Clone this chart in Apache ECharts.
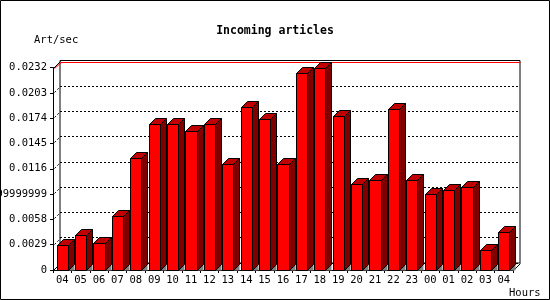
<!DOCTYPE html>
<html><head><meta charset="utf-8">
<script src="https://cdn.jsdelivr.net/npm/echarts@6/dist/echarts.min.js"></script>
<style>html,body{margin:0;padding:0;background:#fff}#c{width:550px;height:300px}</style>
</head><body><div id="c"></div>
<script>
const categories = ['04','05','06','07','08','09','10','11','12','13','14','15','16','17','18','19','20','21','22','23','00','01','02','03','04'];
const values = [0.0029,0.0040,0.0031,0.0062,0.0128,0.0167,0.0167,0.0159,0.0167,0.0122,0.0187,0.0173,0.0122,0.0226,0.0231,0.0176,0.0099,0.0103,0.0184,0.0103,0.0087,0.0092,0.0095,0.0023,0.0044];
const yTickLabels = ['0','0.0029','0.0058','0.0086999999999','0.0116','0.0145','0.0174','0.0203','0.0232'];
const yMin = 0, yMax = 0.0232, yStep = 0.0029;
const titleText = 'Incoming articles';
const yName = 'Art/sec';
const xName = 'Hours';

const FONT = 'DejaVu Sans Mono';
const GL = 53, GT = 67.5, GW = 460, GH = 202.5;
const DP = 7;   // plane depth
const DB = 6;   // bar depth

const chart = echarts.init(document.getElementById('c'), null, {renderer: 'canvas'});
const h = v => Math.round(v) + 0.5;

function renderBar(params, api) {
  const i = api.value(0), v = api.value(1);
  const p0 = api.coord([i, 0]), p1 = api.coord([i, v]);
  const bw = api.size([1, 0])[0];
  const half = bw * 0.3;
  const x0 = h(p0[0] - half), x1 = h(p0[0] + half);
  const yb = h(p0[1]), yt = h(p1[1]);
  const d = DB;
  const st = {stroke: '#000', lineWidth: 1};
  return {type: 'group', children: [
    {type: 'polygon', shape: {points: [[x1, yb], [x1 + d, yb - d], [x1 + d, yb]]}, style: {fill: '#808080'}},
    {type: 'polygon', shape: {points: [[x1, yt], [x1 + d, yt - d], [x1 + d, yb - d], [x1, yb]]}, style: Object.assign({fill: '#800000'}, st)},
    {type: 'polygon', shape: {points: [[x0, yt], [x0 + d, yt - d], [x1 + d, yt - d], [x1, yt]]}, style: Object.assign({fill: '#c00000'}, st)},
    {type: 'rect', shape: {x: x0, y: yt, width: x1 - x0, height: yb - yt}, style: Object.assign({fill: '#ff0000'}, st)}
  ]};
}

function renderFrame(params, api) {
  const cs = params.coordSys;
  const gx = h(cs.x), gy = h(cs.y), gw = Math.round(cs.width), gb = h(cs.y + cs.height);
  const ch = [];
  for (let k = 1; k < yTickLabels.length - 1; k++) {
    const y = h(api.coord([0, yMin + k * yStep])[1]);
    ch.push({type: 'line', shape: {x1: gx + 1, y1: y - 1, x2: gx + DP, y2: y - DP}, style: {stroke: '#000', lineWidth: 1, lineDash: [2, 2]}});
  }
  ch.push({type: 'line', shape: {x1: gx + DP, y1: gy - DP + 1, x2: gx + gw + DP, y2: gy - DP + 1}, style: {stroke: '#ff0000', lineWidth: 1}});
  ch.push({type: 'line', shape: {x1: gx + 1, y1: gy, x2: gx + DP + 1, y2: gy - DP + 1}, style: {stroke: '#ff0000', lineWidth: 1}});
  ch.push({type: 'line', shape: {x1: gx, y1: gy, x2: gx + DP, y2: gy - DP}, style: {stroke: '#000', lineWidth: 1}});
  ch.push({type: 'line', shape: {x1: gx + gw, y1: gb, x2: gx + gw + DP, y2: gb - DP}, style: {stroke: '#000', lineWidth: 1}});
  ch.push({type: 'line', shape: {x1: gx, y1: gb, x2: gx + DP, y2: gb - DP}, style: {stroke: '#000', lineWidth: 1}});
  return {type: 'group', children: ch};
}

const labelStyle = {fontFamily: FONT, fontSize: 10.5, color: '#000'};

chart.setOption({
  animation: false,
  backgroundColor: '#fff',
  title: [
    {text: titleText, left: 'center', top: 20, textStyle: {fontFamily: FONT, fontSize: 11.5, fontWeight: 'bold', color: '#000'}},
    {text: yName, left: 29, top: 30, textStyle: {fontFamily: FONT, fontSize: 10.5, fontWeight: 'normal', color: '#000'}},
    {text: xName, left: 504, top: 283, textStyle: {fontFamily: FONT, fontSize: 10.5, fontWeight: 'normal', color: '#000'}}
  ],
  graphic: [{type: 'rect', shape: {x: 0.5, y: 0.5, width: 549, height: 299}, style: {fill: 'none', stroke: '#000', lineWidth: 1}, z: 100}],
  grid: [
    {left: GL, top: GT, width: GW, height: GH, containLabel: false, outerBoundsMode: 'none'},
    {left: GL + DP, top: GT - DP, width: GW, height: GH, containLabel: false, outerBoundsMode: 'none', show: true, borderColor: '#000', borderWidth: 1, backgroundColor: 'transparent'}
  ],
  xAxis: [
    {type: 'category', gridIndex: 0, data: categories, boundaryGap: true,
     axisLine: {show: true, lineStyle: {color: '#000', width: 1}},
     axisTick: {show: true, alignWithLabel: false, inside: false, length: 3, lineStyle: {color: '#000'}},
     axisLabel: Object.assign({interval: 0, margin: 5, hideOverlap: false}, labelStyle), splitLine: {show: false}},
    {type: 'category', gridIndex: 1, data: categories, show: false}
  ],
  yAxis: [
    {type: 'value', gridIndex: 0, min: yMin, max: yMax, interval: yStep,
     axisLine: {show: true, lineStyle: {color: '#000', width: 1}},
     axisTick: {show: true, inside: false, length: 3, lineStyle: {color: '#000'}},
     axisLabel: Object.assign({margin: 6, hideOverlap: false, formatter: v => yTickLabels[Math.round((v - yMin) / yStep)]}, labelStyle),
     splitLine: {show: false}},
    {type: 'value', gridIndex: 1, min: yMin, max: yMax, interval: yStep,
     axisLine: {show: false}, axisTick: {show: false}, axisLabel: {show: false},
     splitLine: {show: true, lineStyle: {color: '#000', width: 1, type: [2, 2]}}}
  ],
  series: [
    {type: 'custom', xAxisIndex: 0, yAxisIndex: 0, renderItem: renderFrame, data: [[0, 0]], z: 1, silent: true},
    {type: 'custom', xAxisIndex: 0, yAxisIndex: 0, renderItem: renderBar, z: 3,
     data: values.map((v, i) => [i, v])}
  ]
});
</script></body></html>
